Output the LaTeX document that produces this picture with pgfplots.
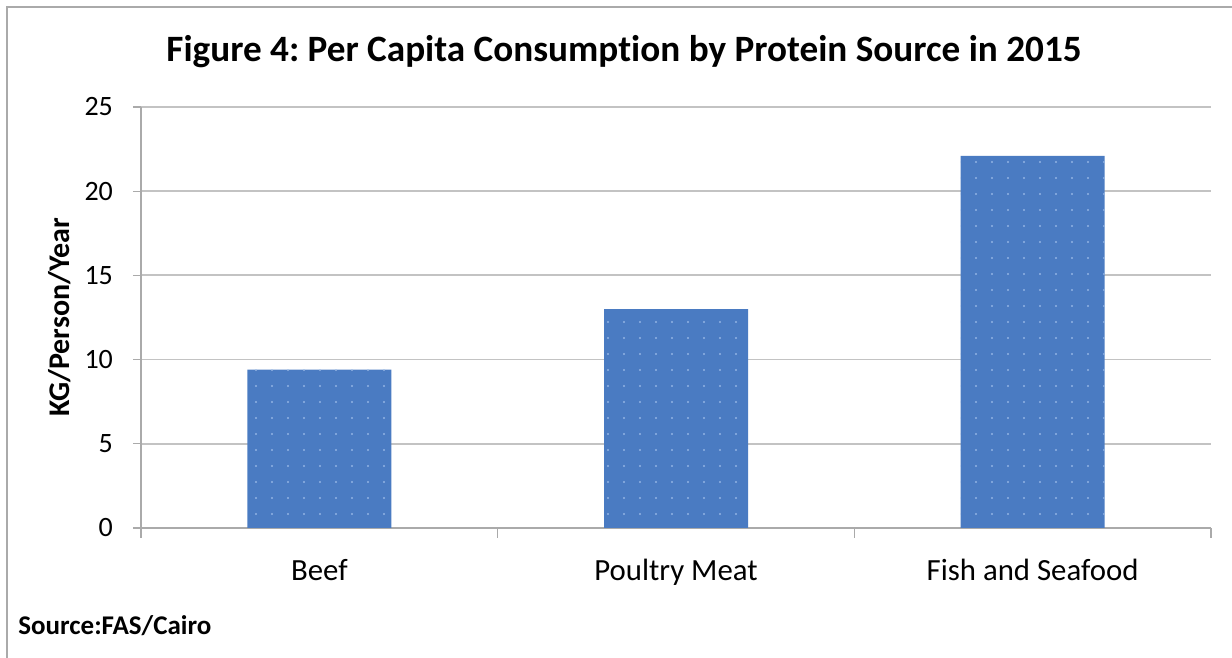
\documentclass[border=0pt]{standalone}
\usepackage{pgfplots}
\pgfplotsset{compat=1.18}
\usepackage{fontspec}
\setmainfont{Carlito}[Ligatures={NoCommon}]
\usetikzlibrary{patterns.meta}
\definecolor{barblue}{RGB}{74,123,194}
\definecolor{dotblue}{RGB}{145,180,228}
\definecolor{gridgray}{RGB}{195,195,195}
\definecolor{axisgray}{RGB}{170,170,170}
\frenchspacing
\begin{document}
\begin{tikzpicture}
% 1 px = 0.5pt ; origin at pixel (141,528)
\useasboundingbox (-70.5pt,-65pt) rectangle (545.5pt,264pt);
\draw[axisgray, line width=1pt] (-67pt,-70pt) -- (-67pt,260.5pt) -- (550pt,260.5pt);
\begin{axis}[
  at={(0pt,0pt)}, anchor=south west,
  scale only axis, width=535pt, height=210.5pt,
  xmin=-0.5, xmax=2.5, ymin=0, ymax=25,
  ytick={0,5,10,15,20,25},
  xtick={0,1,2},
  xticklabels={Beef,Poultry Meat,Fish and Seafood},
  minor xtick={-0.5,0.5,1.5,2.5},
  tick align=outside,
  major tick length=4pt, minor tick length=5pt,
  x tick style={draw=none},
  minor x tick style={draw=axisgray, line width=0.6pt},
  y tick style={draw=axisgray, line width=0.6pt},
  xtick pos=bottom, ytick pos=left,
  ymajorgrids,
  grid style={gridgray, line width=0.9pt},
  axis line style={axisgray, line width=0.6pt},
  axis x line*=bottom, axis y line*=left,
  yticklabel style={font=\fontsize{14}{16}\selectfont, text=black, /pgf/number format/assume math mode=true, xshift=-6.5pt},
  xticklabel style={font=\fontsize{15.4}{18}\selectfont, text=black, yshift=-8pt},
  clip=false,
]
\addplot[ybar, bar width=72pt, fill=barblue, draw=none,
  postaction={pattern={Dots[distance=8pt,radius=0.6pt]}, pattern color=dotblue}]
  coordinates {(0,9.4) (1,13.0) (2,22.1)};
\end{axis}
\node[rotate=90, anchor=center, font=\bfseries\fontsize{15}{18}\selectfont] at (-40.5pt,105.25pt) {KG/Person/Year};
\node[anchor=base, font=\bfseries\fontsize{18.6}{22}\selectfont] at (241.5pt,233pt) {Figure 4: Per Capita Consumption by Protein Source in 2015};
\node[anchor=base west, inner sep=0pt, font=\bfseries\fontsize{13.5}{16}\selectfont] at (-61.5pt,-53.5pt) {Source:FAS/Cairo};
\end{tikzpicture}
\end{document}
